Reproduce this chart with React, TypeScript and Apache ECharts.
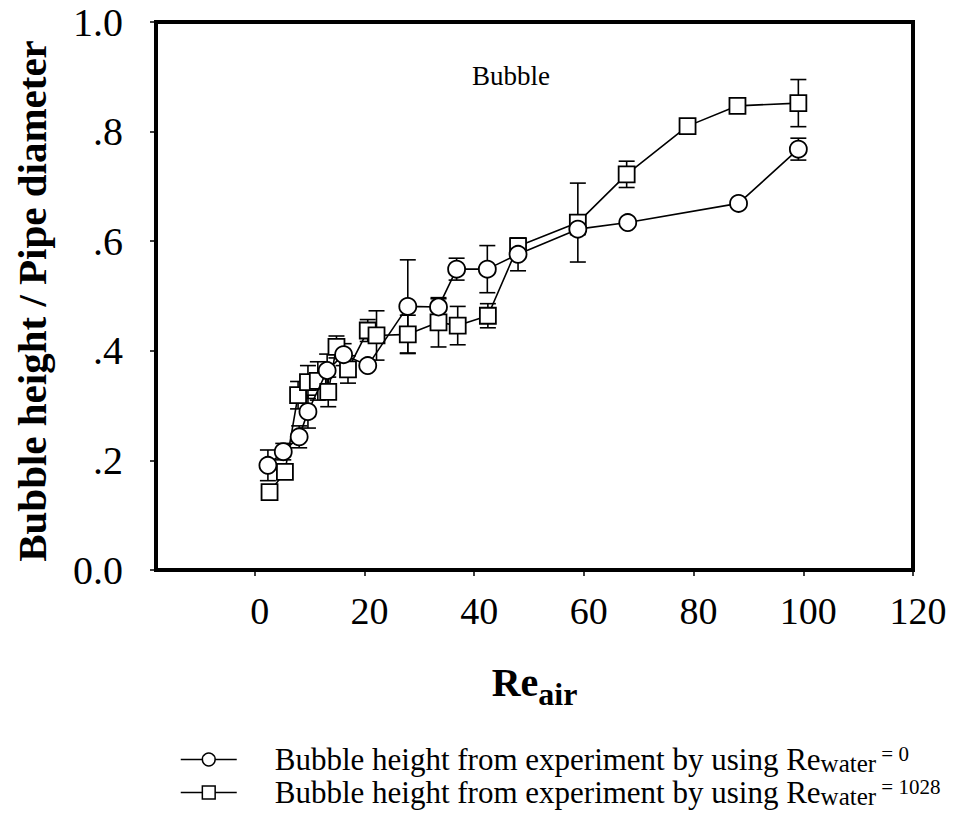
import React, { useEffect, useRef } from "react";
import * as echarts from "echarts";

// Re_water = 0 (circles)
const circleX = [2.4, 5.2, 8.1, 9.7, 13.2, 16.2, 20.6, 27.9, 33.5, 36.8, 42.4, 48.0, 58.9, 68.0, 88.2, 99.1];
const circleY = [0.191, 0.216, 0.243, 0.289, 0.364, 0.393, 0.373, 0.481, 0.48, 0.549, 0.549, 0.576, 0.622, 0.634, 0.669, 0.768];
const circleErr = [0.028, 0.015, 0.02, 0.03, 0.03, 0.02, 0.005, 0.085, 0.015, 0.02, 0.043, 0.03, 0.01, 0.005, 0.005, 0.02];

// Re_water = 1028 (squares)
const squareX = [2.7, 5.5, 7.9, 9.7, 11.5, 13.4, 14.9, 17.0, 20.6, 22.2, 27.9, 33.5, 37.0, 42.5, 48.0, 58.9, 67.8, 78.9, 88.0, 99.1];
const squareY = [0.142, 0.179, 0.319, 0.343, 0.345, 0.325, 0.407, 0.366, 0.437, 0.428, 0.43, 0.452, 0.446, 0.464, 0.591, 0.634, 0.722, 0.81, 0.847, 0.852];
const squareErr = [0.01, 0.01, 0.025, 0.03, 0.035, 0.027, 0.02, 0.025, 0.02, 0.045, 0.035, 0.045, 0.035, 0.022, 0.01, 0.072, 0.024, 0.005, 0.01, 0.043];

const xTicks = [0, 20, 40, 60, 80, 100, 120];

const SERIF = "'Liberation Serif', 'Times New Roman', serif";

export default function App() {
  const ref = useRef<HTMLDivElement>(null);
  useEffect(() => {
    document.body.style.margin = "0";
    const chart = echarts.init(ref.current!, null, { renderer: "svg" });
    const cData = circleX.map((x, i) => [x, circleY[i], circleErr[i]]);
    const sData = squareX.map((x, i) => [x, squareY[i], squareErr[i]]);

    const errRender = (params: any, api: any) => {
      const x = api.value(0);
      const y = api.value(1);
      const e = api.value(2);
      const top = api.coord([x, y + e]);
      const bot = api.coord([x, y - e]);
      const hw = 8;
      const st = { stroke: "#000", lineWidth: 1.6 };
      return {
        type: "group",
        children: [
          { type: "line", shape: { x1: top[0], y1: top[1], x2: bot[0], y2: bot[1] }, style: st },
          { type: "line", shape: { x1: top[0] - hw, y1: top[1], x2: top[0] + hw, y2: top[1] }, style: st },
          { type: "line", shape: { x1: bot[0] - hw, y1: bot[1], x2: bot[0] + hw, y2: bot[1] }, style: st },
        ],
      };
    };

    const legendRich = {
      a: { fontSize: 31, fontFamily: SERIF, color: "#000", lineHeight: 33, verticalAlign: "middle" },
      b: { fontSize: 25, fontFamily: SERIF, color: "#000", lineHeight: 17, verticalAlign: "bottom" },
      c: { fontSize: 21, fontFamily: SERIF, color: "#000", lineHeight: 13, verticalAlign: "top" },
    };

    chart.setOption({
      animation: false,
      backgroundColor: "#fff",
      grid: {
        left: 156,
        right: 41,
        top: 22,
        bottom: 252,
        show: true,
        borderColor: "#000",
        borderWidth: 4,
        backgroundColor: "transparent",
      },
      legend: {
        orient: "vertical",
        left: 180,
        top: 743,
        height: 79,
        padding: 0,
        itemGap: 0,
        itemWidth: 56,
        itemHeight: 16,
        data: ["Re_water = 0", "Re_water = 1028"],
        formatter: (name: string) =>
          name === "Re_water = 0"
            ? "{a|Bubble height from experiment by using Re}{b|water}{c| = 0}"
            : "{a|Bubble height from experiment by using Re}{b|water}{c| = 1028}",
        textStyle: { rich: legendRich, padding: [0, 0, 0, 33] },
        itemStyle: { color: "#fff", borderColor: "#000", borderWidth: 1.5 },
        lineStyle: { color: "#000", width: 1.5 },
      },
      xAxis: {
        type: "value",
        min: -18,
        max: 120,
        name: "{r|Re}{s|air}",
        nameLocation: "middle",
        nameGap: 92,
        nameTextStyle: {
          rich: {
            r: { fontSize: 40, fontWeight: "bold", fontFamily: SERIF, color: "#000", lineHeight: 40, verticalAlign: "top" },
            s: { fontSize: 32, fontWeight: "bold", fontFamily: SERIF, color: "#000", lineHeight: 48, verticalAlign: "bottom" },
          },
        },
        axisLine: { show: true, onZero: false, lineStyle: { color: "#000", width: 4 } },
        axisTick: { show: true, customValues: xTicks, length: 6, inside: false, lineStyle: { color: "#000", width: 1.5 } },
        axisLabel: {
          customValues: xTicks,
          margin: 22,
          fontSize: 38,
          fontFamily: SERIF,
          color: "#000",
          padding: [0, 0, 0, 10],
        },
        splitLine: { show: false },
      },
      yAxis: {
        type: "value",
        min: 0,
        max: 1,
        interval: 0.2,
        name: "Bubble height / Pipe diameter",
        nameLocation: "middle",
        nameGap: 104,
        nameTextStyle: { fontSize: 41, fontWeight: "bold", fontFamily: SERIF, color: "#000", padding: [0, 10, 0, 0] },
        axisLine: { show: true, onZero: false, lineStyle: { color: "#000", width: 4 } },
        axisTick: { show: true, length: 6, inside: false, lineStyle: { color: "#000", width: 1.5 } },
        axisLabel: {
          margin: 33,
          fontSize: 40,
          fontFamily: SERIF,
          color: "#000",
          formatter: (v: number) => {
            if (Math.abs(v) < 1e-9) return "0.0";
            if (Math.abs(v - 1) < 1e-9) return "1.0";
            return v.toFixed(1).replace(/^0/, "");
          },
        },
        splitLine: { show: false },
      },
      graphic: [
        {
          type: "text",
          left: 472,
          top: 62,
          style: { text: "Bubble", fontSize: 27, fontFamily: SERIF, fill: "#000" },
        },
      ],
      series: [
        {
          type: "custom",
          name: "err0",
          renderItem: errRender,
          data: cData,
          encode: { x: 0, y: 1 },
          z: 1,
          silent: true,
        },
        {
          type: "custom",
          name: "err1",
          renderItem: errRender,
          data: sData,
          encode: { x: 0, y: 1 },
          z: 1,
          silent: true,
        },
        {
          type: "line",
          name: "Re_water = 0",
          data: cData.map((d) => [d[0], d[1]]),
          symbol: "circle",
          symbolSize: 17,
          showAllSymbol: true,
          lineStyle: { color: "#000", width: 1.6 },
          itemStyle: { color: "#fff", borderColor: "#000", borderWidth: 1.8 },
          z: 3,
        },
        {
          type: "line",
          name: "Re_water = 1028",
          data: sData.map((d) => [d[0], d[1]]),
          symbol: "rect",
          symbolSize: 16,
          showAllSymbol: true,
          lineStyle: { color: "#000", width: 1.6 },
          itemStyle: { color: "#fff", borderColor: "#000", borderWidth: 1.8 },
          z: 2,
        },
      ],
    });
    return () => chart.dispose();
  }, []);
  return <div ref={ref} style={{ position: "absolute", left: 0, top: 0, width: 954, height: 822 }} />;
}
